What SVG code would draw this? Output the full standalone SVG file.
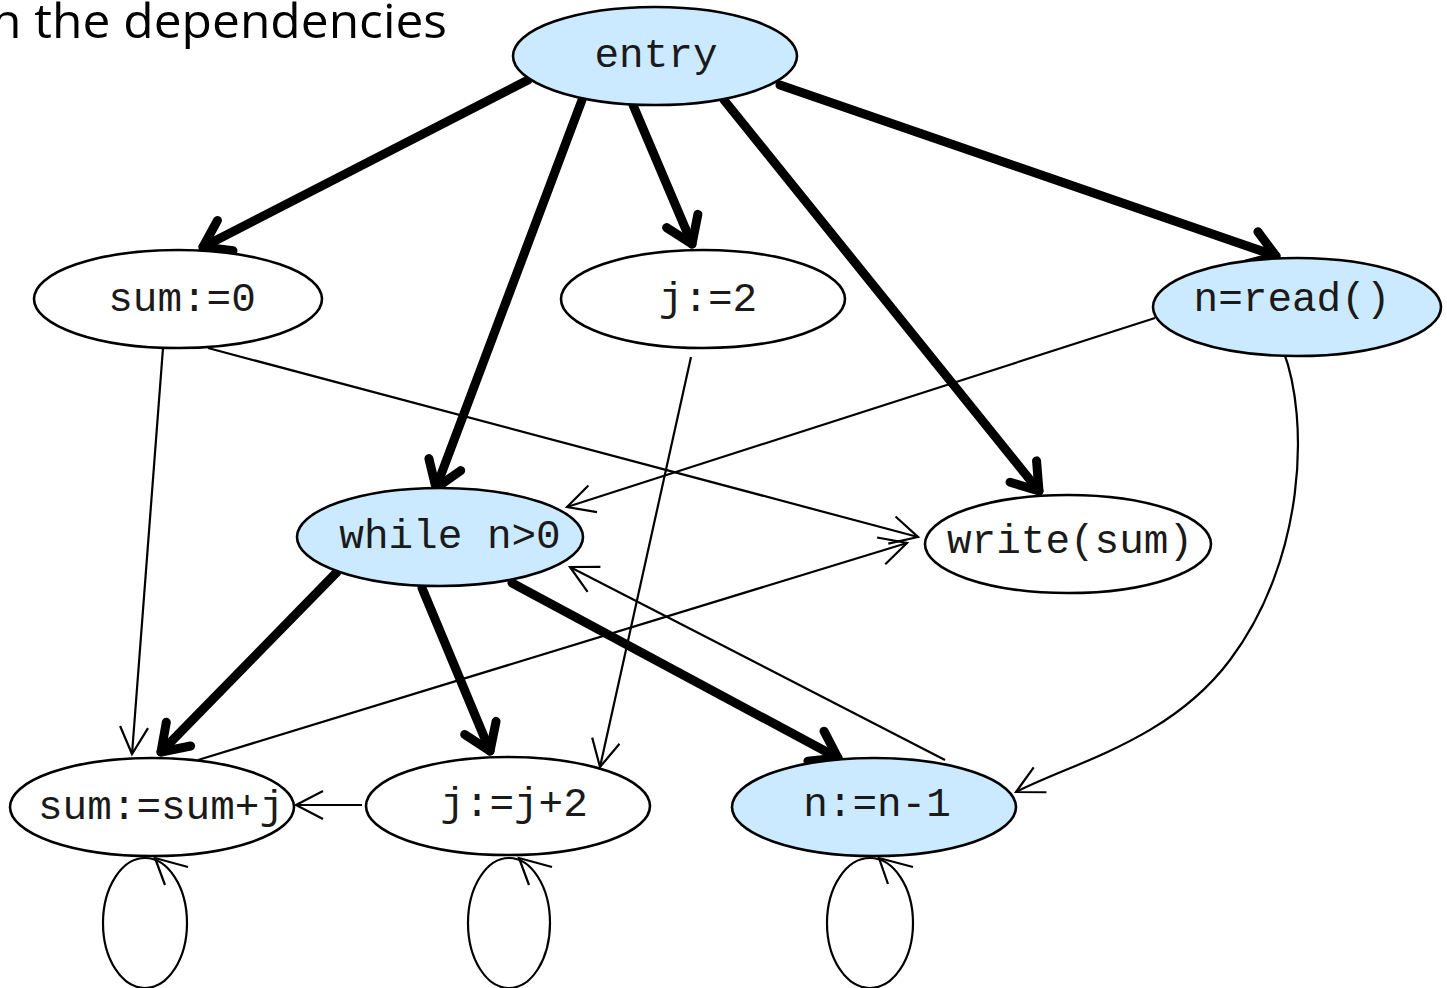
<svg xmlns="http://www.w3.org/2000/svg" width="1447" height="988" viewBox="0 0 1447 988">
  <style>
    .node ellipse { stroke: #000; stroke-width: 2.6; }
    .plain ellipse { fill: #ffffff; }
    .hl ellipse { fill: #cceaff; }
    .node text { font-family: "Liberation Mono", "Courier New", monospace; font-size: 41px; fill: #1a1a1a; text-anchor: middle; }
    .ctrl { fill: none; stroke: #000; stroke-width: 9; stroke-linecap: round; marker-end: url(#headThick); }
    .data { fill: none; stroke: #000; stroke-width: 2.2; marker-end: url(#headThin); }
    .loop { fill: none; stroke: #000; stroke-width: 2.2; }
    .title { font-family: "Open Sans", "Noto Sans", sans-serif; font-size: 47px; fill: #000; }
  </style>
  <defs>
    <marker id="headThick" markerUnits="userSpaceOnUse" viewBox="-40 -30 50 60" markerWidth="50" markerHeight="60" refX="0" refY="0" orient="auto" overflow="visible">
      <path d="M-25,-17 L0,0 L-25,17" fill="none" stroke="#000" stroke-width="9" stroke-linecap="round" stroke-linejoin="round"/>
    </marker>
    <marker id="headThin" markerUnits="userSpaceOnUse" viewBox="-40 -30 50 60" markerWidth="50" markerHeight="60" refX="0" refY="0" orient="auto" overflow="visible">
      <path d="M-27,-14 L0,0 L-27,14" fill="none" stroke="#000" stroke-width="2.2"/>
    </marker>
  </defs>

  <text class="title" x="-9" y="38" textLength="456" lengthAdjust="spacingAndGlyphs">n the dependencies</text>

  <!-- control dependences (thick) and data dependences (thin) -->
  <g id="connectors">
    <line class="ctrl" x1="528" y1="80" x2="203" y2="247"/>
    <line class="ctrl" x1="582" y1="100" x2="436" y2="488"/>
    <line class="ctrl" x1="633" y1="105" x2="692" y2="244"/>
    <line class="ctrl" x1="724" y1="100" x2="1039" y2="491"/>
    <line class="ctrl" x1="780" y1="85" x2="1276" y2="256"/>
    <line class="ctrl" x1="337" y1="572" x2="161" y2="752"/>
    <line class="ctrl" x1="422" y1="588" x2="490" y2="751"/>
    <line class="ctrl" x1="512" y1="583" x2="838" y2="758"/>

    <line class="data" x1="163" y1="348" x2="132" y2="754"/>
    <line class="data" x1="208" y1="348" x2="918" y2="537"/>
    <line class="data" x1="691" y1="357" x2="600" y2="767"/>
    <line class="data" x1="1155" y1="318" x2="567" y2="507"/>
    <path class="data" d="M1283,350 C1310,420 1305,560 1230,660 C1170,740 1075,762 1016,792"/>
    <line class="data" x1="945" y1="760" x2="570" y2="567"/>
    <line class="data" x1="198" y1="760" x2="907" y2="543"/>
    <line class="data" x1="362" y1="805" x2="296" y2="805"/>

    <!-- self loops -->
    <ellipse class="loop" cx="145" cy="923" rx="42" ry="65"/>
    <path class="loop" d="M188,867 L155,858 L165,885"/>
    <ellipse class="loop" cx="509" cy="923" rx="41" ry="65"/>
    <path class="loop" d="M552,867 L519,858 L529,885"/>
    <ellipse class="loop" cx="870" cy="923" rx="43" ry="65"/>
    <path class="loop" d="M913,867 L879,858 L888,884"/>
  </g>

  <g id="entry" class="node hl">
    <ellipse cx="655" cy="56" rx="142" ry="49"/>
    <text x="656" y="67">entry</text>
  </g>
  <g id="sum0" class="node plain">
    <ellipse cx="178" cy="299" rx="144" ry="49"/>
    <text x="182" y="311">sum:=0</text>
  </g>
  <g id="j2" class="node plain">
    <ellipse cx="703" cy="299" rx="142" ry="49"/>
    <text x="708" y="311">j:=2</text>
  </g>
  <g id="nread" class="node hl">
    <ellipse cx="1297" cy="307" rx="144" ry="49"/>
    <text x="1292" y="311">n=read()</text>
  </g>
  <g id="while" class="node hl">
    <ellipse cx="440" cy="537" rx="143" ry="49"/>
    <text x="450" y="548">while n&gt;0</text>
  </g>
  <g id="write" class="node plain">
    <ellipse cx="1068" cy="544" rx="143" ry="49"/>
    <text x="1070" y="553">write(sum)</text>
  </g>
  <g id="sumsumj" class="node plain">
    <ellipse cx="152" cy="807" rx="142" ry="49"/>
    <text x="161" y="819">sum:=sum+j</text>
  </g>
  <g id="jj2" class="node plain">
    <ellipse cx="508" cy="806" rx="142" ry="49"/>
    <text x="514" y="816">j:=j+2</text>
  </g>
  <g id="nn1" class="node hl">
    <ellipse cx="874" cy="807" rx="142" ry="49"/>
    <text x="877" y="816">n:=n-1</text>
  </g>
</svg>
